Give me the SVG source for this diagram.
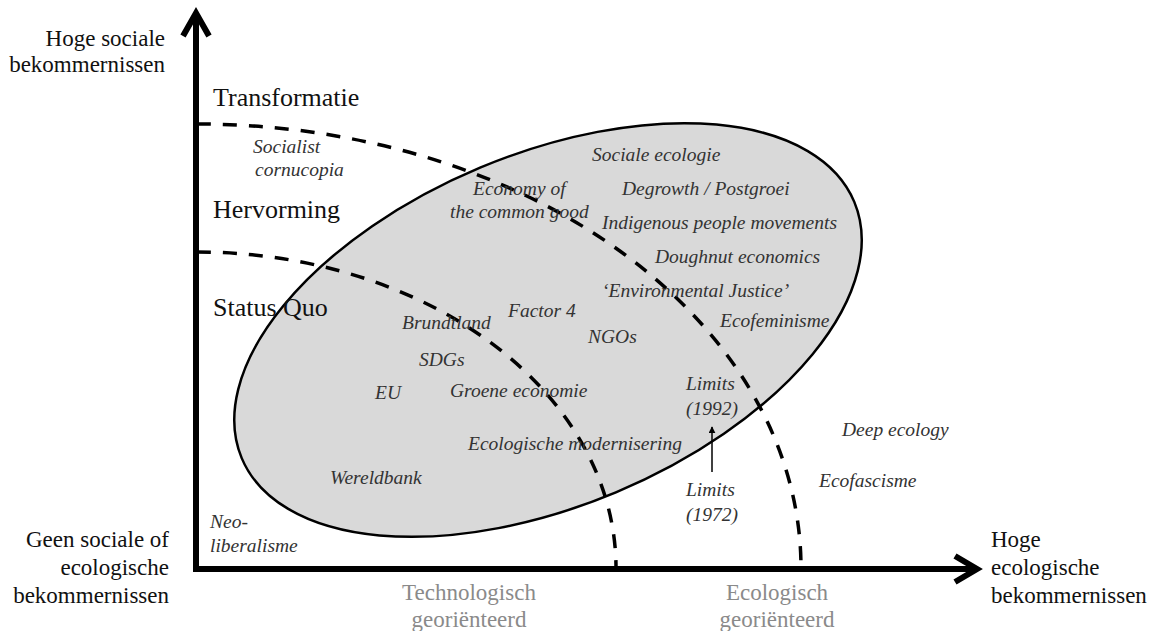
<svg xmlns="http://www.w3.org/2000/svg" width="1156" height="631" viewBox="0 0 1156 631">
<defs>
<style>
.ax{font-family:"Liberation Serif","Times New Roman",serif;font-size:23px;fill:#111}
.gr{font-family:"Liberation Serif","Times New Roman",serif;font-size:23px;fill:#8a8a8a;text-anchor:middle}
.hd{font-family:"Liberation Serif","Times New Roman",serif;font-size:26px;fill:#111}
.it{font-family:"Liberation Serif","Times New Roman",serif;font-size:19.5px;font-style:italic;fill:#333}
.dash{fill:none;stroke:#000;stroke-width:3.5;stroke-dasharray:14 12}
.axis{fill:none;stroke:#000;stroke-width:6}
</style>
<marker id="ah" viewBox="0 0 10 10" refX="9" refY="5" markerWidth="7" markerHeight="7" orient="auto" markerUnits="userSpaceOnUse">
<path d="M0,0 L10,5 L0,10 Z" fill="#000"/>
</marker>
</defs>
<rect width="1156" height="631" fill="#fff"/>

<g id="ellipse">
<ellipse cx="548" cy="330" rx="332" ry="176" transform="rotate(-22.7 548 330)" fill="#d9d9d9" stroke="#000" stroke-width="2.5"/>
</g>

<g id="boundaries">
<path class="dash" d="M197,124 A604,444 0 0 1 801,569"/>
<path class="dash" d="M197,252 A419,316 0 0 1 616,569"/>
</g>

<g id="axes">
<path class="axis" d="M196,572 L196,16"/>
<path class="axis" d="M193,569 L975,569"/>
<polyline class="axis" points="183,36 196,13 209,36" stroke-linejoin="miter"/>
<polyline class="axis" points="955,556 977,569 955,582" stroke-linejoin="miter"/>
</g>

<g id="connectors">
<line x1="712" y1="472" x2="712" y2="427" stroke="#000" stroke-width="1.5" marker-end="url(#ah)"/>
</g>

<g id="axis-labels">
<g id="y-high"><text class="ax" x="165" y="46" text-anchor="end">Hoge sociale</text><text class="ax" x="165" y="72" text-anchor="end">bekommernissen</text></g>
<g id="origin"><text class="ax" x="169" y="547" text-anchor="end">Geen sociale of</text><text class="ax" x="169" y="575" text-anchor="end">ecologische</text><text class="ax" x="169" y="603" text-anchor="end">bekommernissen</text></g>
<g id="x-high"><text class="ax" x="991" y="547">Hoge</text><text class="ax" x="991" y="575">ecologische</text><text class="ax" x="991" y="603">bekommernissen</text></g>
<g id="tech"><text class="gr" x="469" y="600">Technologisch</text><text class="gr" x="469" y="627">georiënteerd</text></g>
<g id="eco"><text class="gr" x="777" y="600">Ecologisch</text><text class="gr" x="777" y="627">georiënteerd</text></g>
</g>

<g id="levels">
<text id="transformatie" class="hd" x="213" y="106">Transformatie</text>
<text id="hervorming" class="hd" x="213" y="218">Hervorming</text>
<text id="statusquo" class="hd" x="213" y="316">Status Quo</text>
</g>

<g id="positions">
<g id="socialist"><text class="it" x="253" y="153">Socialist</text><text class="it" x="255" y="176">cornucopia</text></g>
<text id="sociale" class="it" x="592" y="161">Sociale ecologie</text>
<g id="economy"><text class="it" x="473" y="195">Economy of</text><text class="it" x="450" y="218">the common good</text></g>
<text id="degrowth" class="it" x="622" y="195">Degrowth / Postgroei</text>
<text id="indigenous" class="it" x="602" y="229">Indigenous people movements</text>
<text id="doughnut" class="it" x="655" y="263">Doughnut economics</text>
<text id="envjustice" class="it" x="602" y="297">‘Environmental Justice’</text>
<text id="factor4" class="it" x="508" y="317">Factor 4</text>
<text id="brundtland" class="it" x="402" y="329">Brundtland</text>
<text id="ecofeminisme" class="it" x="720" y="327">Ecofeminisme</text>
<text id="ngos" class="it" x="588" y="343">NGOs</text>
<text id="sdgs" class="it" x="419" y="366">SDGs</text>
<text id="eu" class="it" x="375" y="399">EU</text>
<text id="groene" class="it" x="450" y="397">Groene economie</text>
<text id="ecomod" class="it" x="468" y="450">Ecologische modernisering</text>
<text id="wereldbank" class="it" x="330" y="484">Wereldbank</text>
<g id="limits1992"><text class="it" x="686" y="390">Limits</text><text class="it" x="686" y="415">(1992)</text></g>
<g id="limits1972"><text class="it" x="686" y="496">Limits</text><text class="it" x="686" y="521">(1972)</text></g>
<text id="deepecology" class="it" x="842" y="436">Deep ecology</text>
<text id="ecofascisme" class="it" x="819" y="487">Ecofascisme</text>
<g id="neolib"><text class="it" x="210" y="528">Neo-</text><text class="it" x="210" y="552">liberalisme</text></g>
</g>
</svg>
